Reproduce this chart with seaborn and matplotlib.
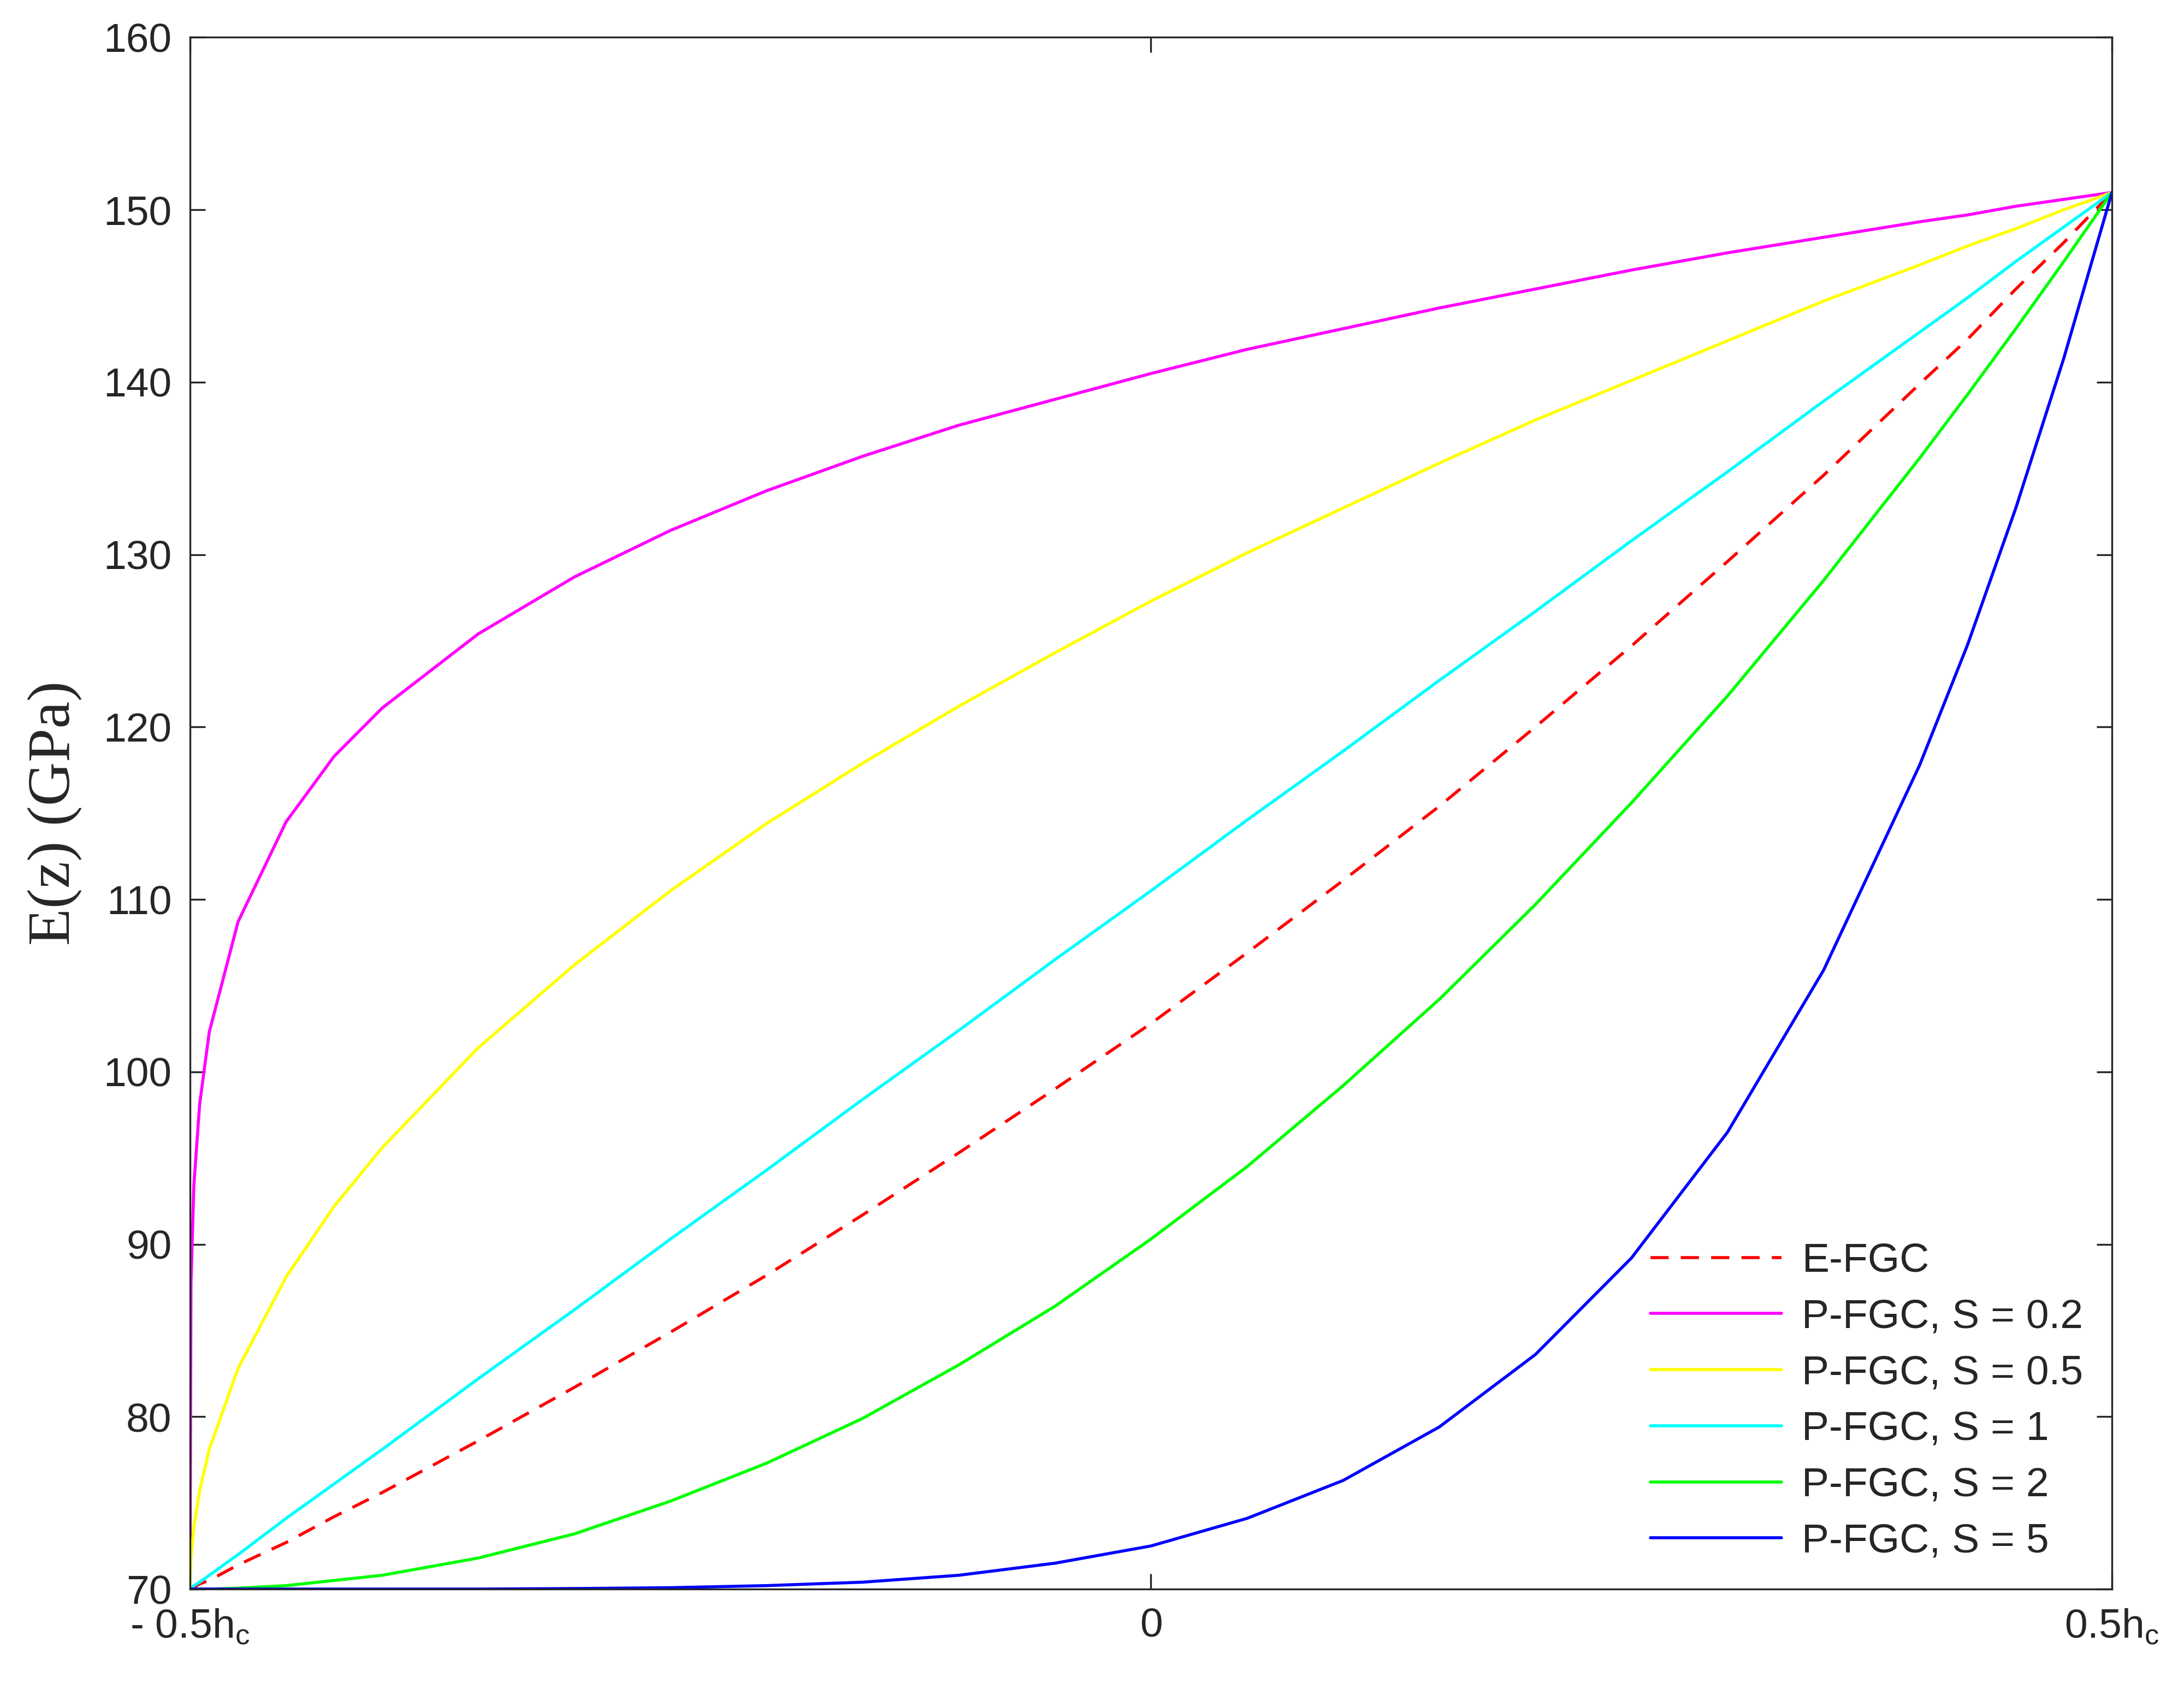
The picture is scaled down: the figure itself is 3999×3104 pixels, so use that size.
import matplotlib
matplotlib.use("Agg")
import matplotlib.pyplot as plt
import seaborn as sns
import numpy as np
import pandas as pd

sns.set_theme(style="white")
plt.rcParams['font.family'] = ['Liberation Sans', 'DejaVu Sans']

t = [0, 0.0005, 0.002, 0.005, 0.01, 0.025, 0.05, 0.075, 0.1, 0.15, 0.2, 0.25, 0.3, 0.35, 0.4, 0.45, 0.5,
     0.55, 0.6, 0.65, 0.7, 0.75, 0.8, 0.85, 0.9, 0.925, 0.95, 0.975, 1.0]
z = [v - 0.5 for v in t]

e_fgc = [70, 70.0, 70.1, 70.3, 70.5, 71.4, 72.7, 74.2, 75.6, 78.6, 81.7, 84.9, 88.2, 91.7, 95.3, 99.0, 102.8,
         106.9, 111.1, 115.4, 120.0, 124.7, 129.6, 134.6, 139.9, 142.5, 145.4, 148.1, 151]
p_s02 = [70, 87.7, 93.4, 98.1, 102.3, 108.7, 114.5, 118.3, 121.1, 125.4, 128.7, 131.4, 133.7, 135.7, 137.5, 139.0, 140.5,
         141.9, 143.1, 144.3, 145.4, 146.5, 147.5, 148.4, 149.3, 149.7, 150.2, 150.6, 151]
p_s05 = [70, 71.8, 73.6, 75.7, 78.1, 82.8, 88.1, 92.2, 95.6, 101.4, 106.2, 110.5, 114.4, 117.9, 121.2, 124.3, 127.3,
         130.1, 132.7, 135.3, 137.8, 140.1, 142.4, 144.7, 146.8, 147.9, 148.9, 150.0, 151]
p_s1 = [70, 70.0, 70.2, 70.4, 70.8, 72.0, 74.1, 76.1, 78.1, 82.2, 86.2, 90.3, 94.3, 98.4, 102.4, 106.5, 110.5,
        114.6, 118.6, 122.7, 126.7, 130.8, 134.8, 138.9, 142.9, 144.9, 147.0, 149.0, 151]
p_s2 = [70, 70, 70.0, 70.0, 70.0, 70.05, 70.2, 70.5, 70.8, 71.8, 73.2, 75.1, 77.3, 79.9, 83.0, 86.4, 90.3,
        94.5, 99.2, 104.2, 109.7, 115.6, 121.8, 128.5, 135.6, 139.3, 143.1, 147.0, 151]
p_s5 = [70, 70, 70, 70, 70, 70, 70, 70, 70, 70, 70.03, 70.08, 70.2, 70.4, 70.8, 71.5, 72.5,
        74.1, 76.3, 79.4, 83.6, 89.2, 96.5, 105.9, 117.8, 124.8, 132.7, 141.4, 151]

series = [("E-FGC", e_fgc, "#ff0000", (0, (6, 4))),
          ("P-FGC, S = 0.2", p_s02, "#ff00ff", "-"),
          ("P-FGC, S = 0.5", p_s05, "#ffff00", "-"),
          ("P-FGC, S = 1", p_s1, "#00ffff", "-"),
          ("P-FGC, S = 2", p_s2, "#00ff00", "-"),
          ("P-FGC, S = 5", p_s5, "#0000ff", "-")]

fig = plt.figure(figsize=(19.995, 15.52), dpi=200)
ax = fig.add_axes([0.087, 0.0625, 0.880, 0.9155])
for name, vals, col, ls in series:
    df = pd.DataFrame({"z": z, "E": vals})
    sns.lineplot(data=df, x="z", y="E", ax=ax, color=col, linestyle=ls,
                 linewidth=2.0, label=name)

ax.set_xlim(-0.5, 0.5)
ax.set_ylim(70, 160)
ax.set_xticks([-0.5, 0, 0.5])
ax.set_xticklabels(["- 0.5h$_\\mathregular{c}$", "0", "0.5h$_\\mathregular{c}$"])
ax.set_yticks(range(70, 161, 10))
ax.xaxis.set_ticks_position('both')
ax.yaxis.set_ticks_position('both')
ax.tick_params(direction="in", length=10, width=1.2, top=True, right=True,
               left=True, bottom=True, labelsize=27, pad=12, colors="#262626")
for s in ax.spines.values():
    s.set_color("#262626")
    s.set_linewidth(1.2)
ax.set_xlabel("")
ax.set_ylabel("E(z) (GPa)", fontsize=40, family=["Liberation Serif"], labelpad=14)
leg = ax.legend(loc="lower right", fontsize=27, frameon=False, handlelength=3.2,
                borderaxespad=0.3, labelspacing=0.45, handletextpad=0.5)
fig.savefig("out.png", dpi=200, facecolor="white")
